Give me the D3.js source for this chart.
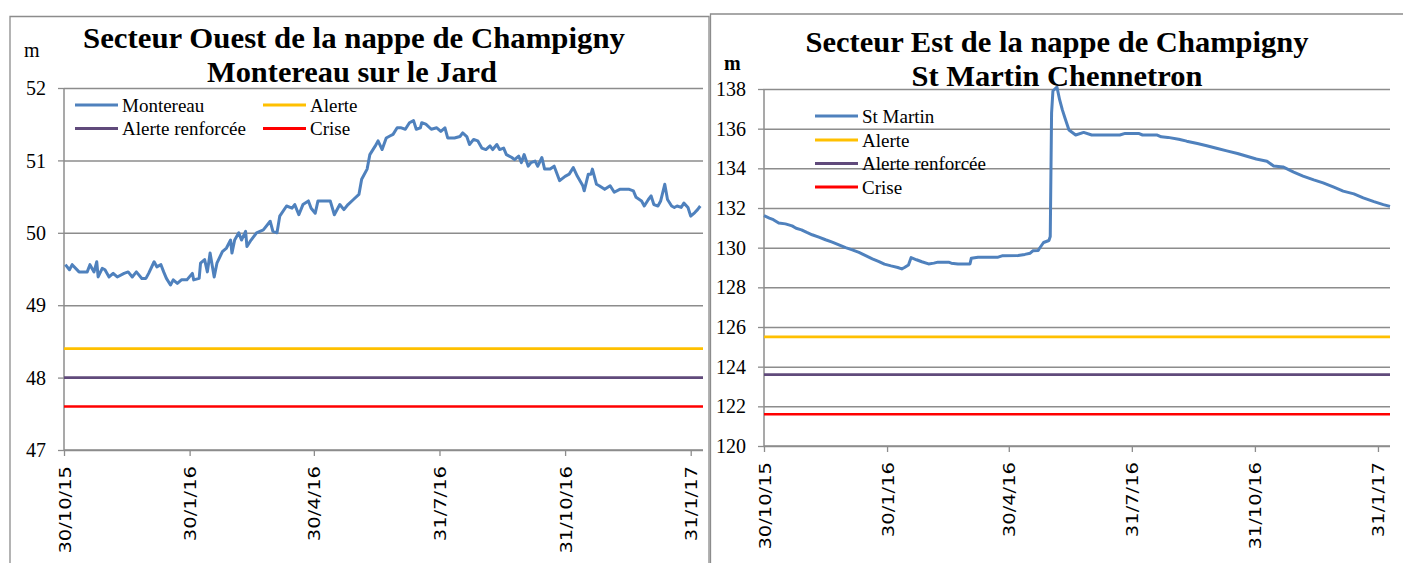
<!DOCTYPE html>
<html>
<head>
<meta charset="utf-8">
<script src="https://cdn.jsdelivr.net/npm/d3@7"></script>
<style>
  body { margin: 0; background: #fff; }
  svg { display: block; }
  .serif { font-family: "Liberation Serif", "Times New Roman", serif; fill: #000; }
  .sans { font-family: "DejaVu Sans", Verdana, sans-serif; fill: #000; }
</style>
</head>
<body>
<svg id="chart" width="1403" height="563"></svg>
<script>
// day 0 = 30/10/2015
const startDate = Date.UTC(2015, 9, 30);
const lastDay = 468;
const tickDays = [0, 92, 183, 275, 367, 459]; // 30/10/15 ... 31/1/17

const thresholdNames = ["Alerte", "Alerte renforcée", "Crise"];
const thresholdColors = ["#FFC000", "#604A7B", "#FF0000"];

// Secteur Ouest - Montereau sur le Jard
const westDays = [1, 4, 6, 11, 17, 19, 22, 24, 25, 28, 30, 33, 36, 39, 44, 47, 50, 53, 57, 60,
  62, 66, 68, 71, 73, 75, 78, 80, 83, 86, 90, 94, 95, 99, 100, 103, 105, 107, 110, 112,
  116, 119, 122, 123, 125, 128, 130, 133, 134, 137, 141, 146, 151, 153, 156, 158, 163, 167, 169, 172,
  175, 179, 181, 184, 186, 191, 195, 198, 202, 205, 208, 212, 216, 218, 222, 224, 228, 230, 233, 236,
  239, 241, 244, 247, 250, 253, 256, 258, 261,
  262, 265, 269, 273, 276, 279, 281, 286, 290, 292, 295, 297, 300, 303, 306, 309, 312, 314, 317, 319,
  322, 324, 328, 330, 333, 335, 337, 340, 342, 345, 347, 350, 352, 356, 359, 363, 367, 370, 373, 376,
  380, 381, 384, 386, 387, 390, 392, 396, 400, 403, 407, 410, 414, 417, 419, 423, 425, 428, 430, 432,
  435, 437, 440, 442, 445, 447, 449, 452, 454, 457, 459, 462, 464, 466];
const westLevels = [49.56, 49.49, 49.56, 49.46, 49.46, 49.56, 49.46, 49.60, 49.39, 49.51,
  49.49, 49.39, 49.44, 49.39, 49.44, 49.46, 49.39, 49.46, 49.37, 49.37,
  49.44, 49.60, 49.53, 49.56, 49.46, 49.37, 49.28, 49.35, 49.30, 49.35,
  49.35, 49.44, 49.35, 49.37, 49.58, 49.63, 49.46, 49.72, 49.39, 49.58,
  49.74, 49.79, 49.90, 49.72, 49.90, 50.00, 49.90, 50.02, 49.81, 49.90,
  50.00, 50.04, 50.16, 50.02, 50.00, 50.23, 50.37, 50.34, 50.39, 50.25,
  50.39, 50.44, 50.34, 50.27, 50.44, 50.44, 50.44, 50.25, 50.39, 50.32,
  50.39, 50.46, 50.53, 50.74, 50.88, 51.08, 51.20, 51.27, 51.15, 51.31,
  51.34, 51.36, 51.45, 51.45, 51.43, 51.52, 51.55, 51.43, 51.45,
  51.52, 51.50, 51.43, 51.45, 51.40, 51.45, 51.31, 51.31, 51.33, 51.38,
  51.33, 51.22, 51.29, 51.27, 51.17, 51.15, 51.20, 51.15, 51.22, 51.15,
  51.17, 51.08, 51.04, 51.01, 51.06, 50.97, 51.08, 50.92, 50.97, 50.99,
  50.92, 51.04, 50.88, 50.88, 50.92, 50.72, 50.78, 50.81, 50.90, 50.78,
  50.65, 50.58, 50.81, 50.81, 50.88, 50.67, 50.65, 50.60, 50.65, 50.56,
  50.60, 50.60, 50.60, 50.58, 50.49, 50.44, 50.37, 50.46, 50.51, 50.39,
  50.37, 50.44, 50.67, 50.46, 50.37, 50.35, 50.37, 50.35, 50.41, 50.35,
  50.23, 50.28, 50.32, 50.37];
const westThresholds = [48.4, 48.0, 47.6];
const westYTicks = [47, 48, 49, 50, 51, 52];

// Secteur Est - St Martin Chennetron
const eastDays = [0, 4, 7, 11, 16, 21, 24, 28, 32, 36, 41, 46, 51, 56, 61, 66, 71, 76, 81, 86,
  90, 95, 100, 103, 105, 108, 110, 114, 118, 123, 127, 130, 138, 140, 145, 154, 155, 160, 175, 178,
  190, 195, 199, 201, 205, 206, 209, 213, 214, 215, 216, 219, 221, 223, 225, 228, 233, 239, 245, 266,
  270, 280, 283, 294, 297, 302, 310, 316, 324, 331, 339, 346, 354, 361, 368, 376, 381, 388, 396, 403,
  411, 418, 426, 433, 441, 448, 456, 463, 468];
const eastLevels = [131.61, 131.49, 131.41, 131.24, 131.20, 131.10, 130.98, 130.90, 130.77, 130.65,
  130.53, 130.40, 130.28, 130.14, 130.00, 129.89, 129.76, 129.60, 129.44, 129.30,
  129.17, 129.08, 129.00, 128.93, 129.00, 129.13, 129.50, 129.39, 129.29, 129.18,
  129.22, 129.27, 129.27, 129.22, 129.18, 129.18, 129.47, 129.52, 129.52, 129.59,
  129.60, 129.66, 129.72, 129.84, 129.86, 129.97, 130.26, 130.36, 130.56, 136.80,
  137.90, 138.10, 137.46, 136.96, 136.54, 135.93, 135.68, 135.81, 135.68, 135.68,
  135.76, 135.76, 135.68, 135.68, 135.59, 135.56, 135.47, 135.37, 135.25, 135.14,
  135.00, 134.88, 134.75, 134.61, 134.47, 134.36, 134.12, 134.07, 133.81, 133.61,
  133.42, 133.27, 133.05, 132.85, 132.71, 132.51, 132.32, 132.17, 132.08];
const eastThresholds = [125.5, 123.6, 121.6];
const eastYTicks = [120, 122, 124, 126, 128, 130, 132, 134, 136, 138];

const dayToDate = (d) => new Date(startDate + d * 864e5);
const fmt = d3.utcFormat("%-d/%-m/%y");
const gridColor = "#8c8c8c";
const seriesColor = "#4F81BD";
const svg = d3.select("#chart");

function panel(cfg) {
  const g = svg.append("g");

  // outer box (open at the bottom)
  g.append("path")
    .attr("d", `M${cfg.box[0]},600 V${cfg.box[1]} H${cfg.box[2]}` + (cfg.rightBorder ? " V600" : ""))
    .attr("fill", "none")
    .attr("stroke", gridColor)
    .attr("stroke-width", 1.3);

  const x = d3.scaleUtc()
    .domain([dayToDate(0), dayToDate(lastDay)])
    .range([cfg.left, cfg.right]);
  const y = d3.scaleLinear().domain(cfg.yDomain).range([cfg.bottom, cfg.top]);

  // horizontal gridlines + y ticks
  const yAxis = g.append("g").attr("transform", `translate(${cfg.left},0)`)
    .call(d3.axisLeft(y).tickValues(cfg.yTicks).tickSize(6).tickPadding(12).tickFormat(d3.format("d")));
  yAxis.select(".domain").attr("stroke", gridColor).attr("stroke-width", 1.5).attr("d", `M0,${cfg.top}V${cfg.bottom}`);
  yAxis.selectAll(".tick line").attr("stroke", gridColor).attr("stroke-width", 1.3);
  yAxis.selectAll(".tick text")
    .attr("class", "serif")
    .style("font-size", "20px")
    .attr("dy", "0.33em");
  yAxis.selectAll(".tick").append("line")
    .attr("x1", 0).attr("x2", cfg.right - cfg.left)
    .attr("stroke", gridColor).attr("stroke-width", 1.5);

  // x axis with rotated date labels
  const xAxis = g.append("g").attr("transform", `translate(0,${cfg.bottom})`)
    .call(d3.axisBottom(x).tickValues(tickDays.map(dayToDate)).tickSize(6).tickFormat(""));
  xAxis.select(".domain").attr("stroke", gridColor).attr("stroke-width", 1.5).attr("d", `M${cfg.left},0H${cfg.right}`);
  xAxis.selectAll(".tick line").attr("stroke", gridColor).attr("stroke-width", 1.3);
  xAxis.selectAll(".tick").append("text")
    .attr("class", "sans")
    .attr("text-anchor", "end")
    .attr("transform", "translate(6,16) rotate(-90) scale(1.22,1)")
    .style("font-size", "16px")
    .text((d) => fmt(d));

  // threshold lines
  cfg.thresholds.forEach((v, i) => {
    g.append("line")
      .attr("x1", x(dayToDate(0))).attr("x2", x(dayToDate(lastDay)))
      .attr("y1", y(v)).attr("y2", y(v))
      .attr("stroke", thresholdColors[i]).attr("stroke-width", 2.6);
  });

  // measured level
  const line = d3.line().x((d) => x(dayToDate(d[0]))).y((d) => y(d[1]));
  g.append("path")
    .datum(d3.zip(cfg.days, cfg.levels))
    .attr("fill", "none")
    .attr("stroke", seriesColor)
    .attr("stroke-width", 3)
    .attr("stroke-linejoin", "round")
    .attr("d", line);

  // unit label
  g.append("text").attr("class", "serif")
    .attr("x", cfg.unit[0]).attr("y", cfg.unit[1])
    .style("font-size", "20px")
    .style("font-weight", cfg.unitBold ? "bold" : "normal")
    .text("m");

  // title
  cfg.title.forEach((t) => {
    g.append("text").attr("class", "serif")
      .attr("x", t.x).attr("y", t.y)
      .attr("text-anchor", "middle")
      .attr("textLength", t.w)
      .attr("lengthAdjust", "spacingAndGlyphs")
      .style("font-size", "30px")
      .style("font-weight", "bold")
      .text(t.text);
  });

  // legend
  const names = [cfg.seriesName].concat(thresholdNames);
  const colors = [seriesColor].concat(thresholdColors);
  names.forEach((n, i) => {
    const p = cfg.legend[i];
    g.append("line")
      .attr("x1", p[0]).attr("x2", p[0] + 43)
      .attr("y1", p[1]).attr("y2", p[1])
      .attr("stroke", colors[i]).attr("stroke-width", 2.8);
    g.append("text").attr("class", "serif")
      .attr("x", p[0] + 47).attr("y", p[1] + 6.5)
      .style("font-size", "19px")
      .text(n);
  });
}

panel({
  box: [10, 16.5, 709], rightBorder: true,
  left: 64, right: 703, top: 88, bottom: 450,
  yDomain: [47, 52], yTicks: westYTicks,
  days: westDays, levels: westLevels, thresholds: westThresholds,
  seriesName: "Montereau",
  unit: [24, 57], unitBold: false,
  title: [
    { text: "Secteur Ouest de la nappe de Champigny", x: 354, y: 48, w: 542 },
    { text: "Montereau sur le Jard", x: 352, y: 82, w: 290 }
  ],
  legend: [[75, 105], [263, 105], [75, 128.5], [263, 128.5]]
});

panel({
  box: [710.5, 14, 1403], rightBorder: false,
  left: 764, right: 1390, top: 89, bottom: 446,
  yDomain: [120, 138], yTicks: eastYTicks,
  days: eastDays, levels: eastLevels, thresholds: eastThresholds,
  seriesName: "St Martin",
  unit: [724, 70], unitBold: true,
  title: [
    { text: "Secteur Est de la nappe de Champigny", x: 1057, y: 52, w: 503 },
    { text: "St Martin Chennetron", x: 1057, y: 86, w: 291 }
  ],
  legend: [[815, 116], [815, 140], [815, 163.5], [815, 187]]
});
</script>
</body>
</html>
